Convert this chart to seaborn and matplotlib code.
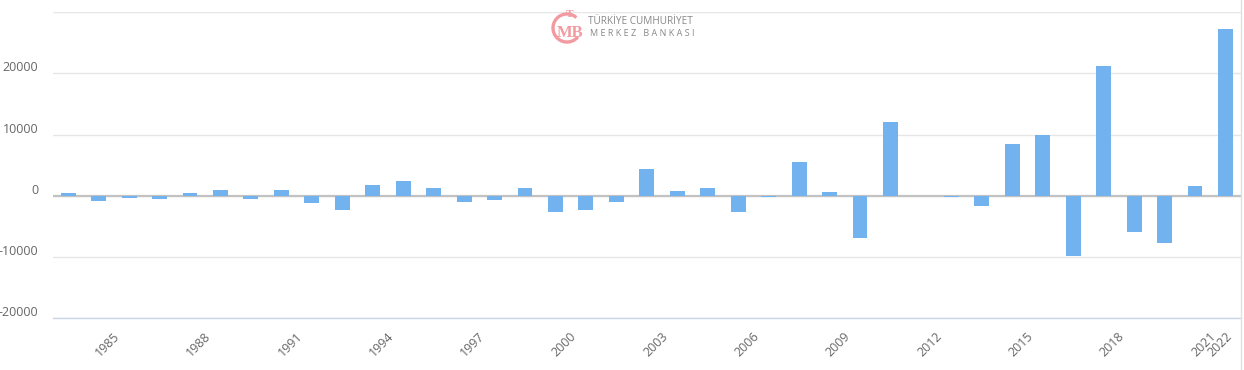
import matplotlib
matplotlib.use('Agg')
import matplotlib.pyplot as plt
import matplotlib.transforms as mtransforms
from matplotlib.patches import Arc
import seaborn as sns
import numpy as np
import pandas as pd

# Data (annual values)
years = list(range(1984, 2023))
values = [400, -900, -300, -550, 400, 900, -550, 900, -1200, -2250, 1700, 2350,
          1350, -1050, -750, 1200, -2700, -2250, -950, 4300, 700, 1350, -2700, -250,
          5450, 550, -6850, 12050, 0, -250, -1600, 8450, 9900, -9800, 21250, -5850,
          -7650, 1550, 27300]
tick_years = [1985, 1988, 1991, 1994, 1997, 2000, 2003, 2006, 2009, 2012, 2015, 2018, 2021, 2022]
ytick_vals = [-20000, -10000, 0, 10000, 20000, 30000]

df = pd.DataFrame({'year': years, 'value': values})

sns.set_style('white')
plt.rcParams['font.family'] = ['Open Sans', 'DejaVu Sans']

fig = plt.figure(figsize=(12.44, 3.70), dpi=100)
ax = fig.add_axes([0.0426, 0.1397, 0.9547, 0.8279])

sns.barplot(data=df, x='year', y='value', native_scale=True, color='#72b2ee',
            saturation=1, width=0.49, linewidth=0, ax=ax)
for p in ax.patches:
    p.set_zorder(2)

ax.set_xlim(1983.5, 2022.5)
ax.set_ylim(-20000, 30000)

# grid
ax.set_yticks(ytick_vals)
ax.set_yticklabels([str(v) for v in ytick_vals[:-1]] + [''])
ax.yaxis.grid(True, color='#e6e6e6', linewidth=1)
ax.set_axisbelow(True)
ax.axhline(0, color='#c2c2c2', linewidth=1.6, zorder=1.5)

# x ticks: tick for year Y sits at end of year, last one at the final bar
xpos = [y + 0.47 for y in tick_years[:-1]] + [tick_years[-1]]
ax.set_xticks(xpos)
ax.set_xticklabels([str(y) for y in tick_years], rotation=45, ha='right',
                   rotation_mode='anchor', fontsize=9, color='#666666')
ax.tick_params(axis='x', length=5, color='#ccd6eb', width=1, pad=3, direction='out')
ax.tick_params(axis='y', length=0, labelsize=9, labelcolor='#666666', pad=10.5)

for s in ['top', 'right', 'left']:
    ax.spines[s].set_visible(False)
ax.spines['bottom'].set_color('#ccd6eb')
ax.spines['bottom'].set_linewidth(1)
ax.set_xlabel('')
ax.set_ylabel('')

# shift y labels slightly above their grid line
offset = mtransforms.ScaledTranslation(0, 5 / 72, fig.dpi_scale_trans)
for t in ax.yaxis.get_major_ticks():
    t.label1.set_transform(t.label1.get_transform() + offset)

# watermark logo
pink = '#f29aa0'
arc = Arc((0.4558, 0.9243), 0.0225, 0.0757, theta1=75, theta2=290, color=pink,
          lw=2.4, transform=fig.transFigure)
fig.add_artist(arc)
fig.text(0.4575, 0.962, 'T', color=pink, fontsize=8, ha='center', va='center',
         fontweight='bold', family='Liberation Serif')
fig.text(0.4585, 0.912, 'MB', color=pink, fontsize=12, ha='center', va='center',
         fontweight='bold', family='Liberation Serif')
fig.text(0.473, 0.942, 'TÜRKİYE CUMHURİYET', color='#888888', fontsize=7.2,
         ha='left', va='center')
fig.text(0.474, 0.91, 'M E R K E Z   B A N K A S I', color='#888888', fontsize=6.5,
         ha='left', va='center')

# right border line of the container
fig.add_artist(plt.Line2D([0.9975, 0.9975], [0, 1], color='#e0e0e0', lw=1,
                          transform=fig.transFigure))

fig.savefig('out.png', dpi=100)
